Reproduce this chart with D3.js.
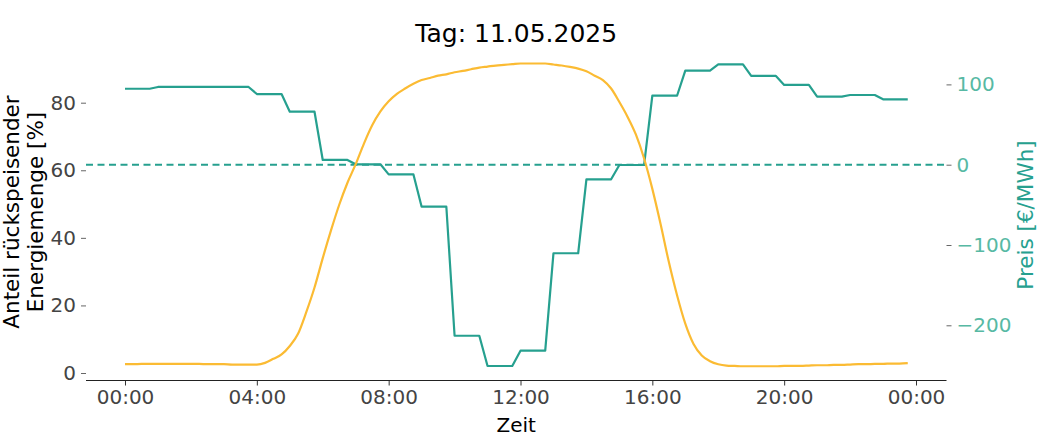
<!DOCTYPE html>
<html>
<head>
<meta charset="utf-8">
<script src="https://cdn.jsdelivr.net/npm/d3@7/dist/d3.min.js"></script>
<style>
  html, body { margin: 0; padding: 0; background: #fff; }
  svg { display: block; font-family: "DejaVu Sans", sans-serif; }
</style>
</head>
<body>
<svg id="chart" width="1037" height="447"></svg>
<script>
// ---- Data (quarter-hourly, 11.05.2025) ----
const title = "Tag: 11.05.2025";
const xLabel = "Zeit";
const leftLabelLines = ["Anteil rückspeisender", "Energiemenge [%]"];
const rightLabel = "Preis [€/MWh]";

// share of fed-back energy [%], 96 quarter hours
const share = [
  2.6, 2.6, 2.7, 2.7,  2.7, 2.7, 2.7, 2.7,  2.7, 2.7, 2.6, 2.6,  2.6, 2.5, 2.5, 2.5,
  2.5, 3.0, 4.2, 5.5,  8.0, 11.6, 18.0, 25.3,  34.0, 42.2, 49.8, 56.3,
  61.8, 67.9, 73.3, 77.4,  80.4, 82.6, 84.2, 85.6,
  86.7, 87.3, 88.0, 88.4,  89.0, 89.4, 89.9, 90.4,
  90.7, 91.0, 91.2, 91.4,  91.6, 91.6, 91.6, 91.6,
  91.3, 91.0, 90.6, 90.1,  89.3, 88.0, 86.7, 84.2,
  80.2, 75.8, 70.6, 63.5,  54.5, 44.1, 32.9, 23.0,
  14.6, 8.6, 5.2, 3.5,  2.6, 2.2, 2.1, 2.0,
  2.0, 2.0, 2.0, 2.0,  2.1, 2.1, 2.1, 2.2,
  2.3, 2.3, 2.4, 2.4,  2.5, 2.6, 2.6, 2.7,
  2.7, 2.8, 2.8, 2.9
];

// price [€/MWh], 96 quarter hours
const price = [
  94.6, 94.6, 94.6, 94.6,
  96.8, 96.8, 96.8, 96.8,
  96.8, 96.8, 96.8, 96.8,
  96.8, 96.8, 96.8, 96.8,
  88.0, 88.0, 88.0, 88.0,
  66.0, 66.0, 66.0, 66.0,
  5.9, 5.9, 5.9, 5.9,
  0.5, 0.5, 0.5, 0.5,
  -12.0, -12.0, -12.0, -12.0,
  -52.3, -52.3, -52.3, -52.3,
  -213.0, -213.0, -213.0, -213.0,
  -250.7, -250.7, -250.7, -250.7,
  -231.6, -231.6, -231.6, -231.6,
  -110.3, -110.3, -110.3, -110.3,
  -18.2, -18.2, -18.2, -18.2,
  -0.4, -0.4, -0.4, -0.4,
  85.9, 85.9, 85.9, 85.9,
  117.1, 117.1, 117.1, 117.1,
  125.0, 125.0, 125.0, 125.0,
  110.5, 110.5, 110.5, 110.5,
  99.3, 99.3, 99.3, 99.3,
  84.7, 84.7, 84.7, 84.7,
  86.8, 86.8, 86.8, 86.8,
  81.4, 81.4, 81.4, 81.4
];

const leftTicks = [0, 20, 40, 60, 80];
const rightTicks = [-200, -100, 0, 100];

// ---- Layout ----
const dayStart = new Date(2025, 4, 11, 0, 0);
const dayEnd = new Date(2025, 4, 12, 0, 0);
const times = d3.timeMinute.every(15).range(dayStart, dayEnd);

const plot = { left: 86, right: 946.5, top: 48.5, bottom: 380.5 };

const colTeal = "#26a08f";
const colTealLight = "#57b9a4";
const colOrange = "#fbbb33";
const colTick = "#444";

const svg = d3.select("#chart");

const x = d3.scaleTime().domain([dayStart, dayEnd]).range([125, 916]);
const yL = d3.scaleLinear().domain([0, 80]).range([373, 102.7]);
const yR = d3.scaleLinear().domain([0, 100]).range([164.7, 84.4]);

// ---- Title ----
svg.append("text")
  .attr("x", (plot.left + plot.right) / 2)
  .attr("y", 42)
  .attr("text-anchor", "middle")
  .attr("font-size", 25)
  .attr("fill", "#000")
  .text(title);

// ---- Bottom axis ----
const xAxis = d3.axisBottom(x)
  .ticks(d3.timeHour.every(4))
  .tickFormat(d3.timeFormat("%H:%M"))
  .tickSize(5)
  .tickPadding(4)
  .tickSizeOuter(0);

const gx = svg.append("g")
  .attr("transform", `translate(0,${plot.bottom})`)
  .call(xAxis);
gx.select(".domain").remove();
gx.selectAll(".tick line").attr("stroke", "#333").attr("stroke-width", 1);
gx.selectAll(".tick text").attr("font-size", 20).attr("fill", colTick)
  .attr("font-family", "DejaVu Sans");
gx.append("line")
  .attr("x1", plot.left).attr("x2", plot.right)
  .attr("y1", 0).attr("y2", 0)
  .attr("stroke", "#222").attr("stroke-width", 1.2);

svg.append("text")
  .attr("x", (plot.left + plot.right) / 2)
  .attr("y", 432)
  .attr("text-anchor", "middle")
  .attr("font-size", 20)
  .attr("fill", "#000")
  .text(xLabel);

// ---- Left axis ----
const yLAxis = d3.axisLeft(yL).tickValues(leftTicks).tickSize(5).tickPadding(5);
const gyl = svg.append("g")
  .attr("transform", `translate(${plot.left},0)`)
  .call(yLAxis);
gyl.select(".domain").remove();
gyl.selectAll(".tick line").attr("stroke", "#666");
gyl.selectAll(".tick text").attr("font-size", 20).attr("fill", colTick)
  .attr("font-family", "DejaVu Sans");

const leftLab = svg.append("text")
  .attr("transform", `translate(19,212) rotate(-90)`)
  .attr("text-anchor", "middle")
  .attr("font-size", 21.5)
  .attr("fill", "#000");
leftLabelLines.forEach((t, i) => {
  leftLab.append("tspan").attr("x", 0).attr("dy", i === 0 ? 0 : "1.1em").text(t);
});

// ---- Right axis ----
const fmtR = d => (d < 0 ? "\u2212" + Math.abs(d) : String(d));
const yRAxis = d3.axisRight(yR).tickValues(rightTicks).tickFormat(fmtR).tickSize(5).tickPadding(5);
const gyr = svg.append("g")
  .attr("transform", `translate(${plot.right},0)`)
  .call(yRAxis);
gyr.select(".domain").remove();
gyr.selectAll(".tick line").attr("stroke", "#666");
gyr.selectAll(".tick text").attr("font-size", 20).attr("fill", colTealLight)
  .attr("font-family", "DejaVu Sans");

svg.append("text")
  .attr("transform", `translate(1033,215) rotate(-90)`)
  .attr("text-anchor", "middle")
  .attr("font-size", 21.5)
  .attr("fill", colTeal)
  .text(rightLabel);

// ---- Zero price dashed line ----
svg.append("line")
  .attr("x1", plot.left).attr("x2", plot.right)
  .attr("y1", yR(0)).attr("y2", yR(0))
  .attr("stroke", colTeal)
  .attr("stroke-width", 2)
  .attr("stroke-dasharray", "7,4.5");

// ---- Lines ----
const shareLine = d3.line()
  .x((d, i) => x(times[i]))
  .y(d => yL(d))
  .curve(d3.curveMonotoneX);

const priceLine = d3.line()
  .x((d, i) => x(times[i]))
  .y(d => yR(d));

svg.append("path")
  .datum(price)
  .attr("d", priceLine)
  .attr("fill", "none")
  .attr("stroke", colTeal)
  .attr("stroke-width", 2.2)
  .attr("stroke-linejoin", "round");

svg.append("path")
  .datum(share)
  .attr("d", shareLine)
  .attr("fill", "none")
  .attr("stroke", colOrange)
  .attr("stroke-width", 2.2)
  .attr("stroke-linejoin", "round");
</script>
</body>
</html>
